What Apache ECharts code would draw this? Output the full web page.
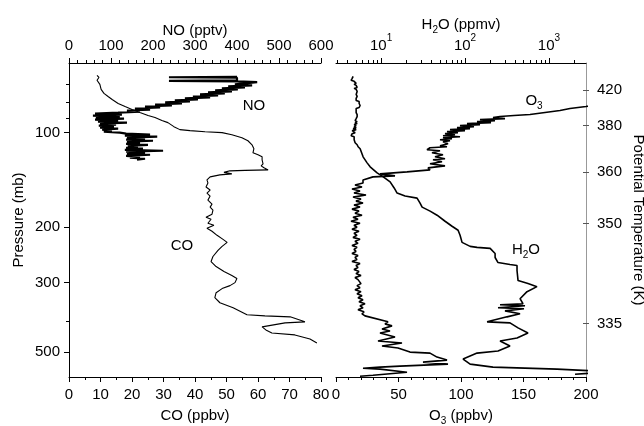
<!DOCTYPE html>
<html>
<head>
<meta charset="utf-8">
<script src="https://cdn.jsdelivr.net/npm/echarts@6/dist/echarts.min.js"></script>
<style>
  html, body { margin: 0; padding: 0; background: #fff; }
  #chart { width: 644px; height: 426px; }
</style>
</head>
<body>
<div id="chart"></div>
<script>
// ---- Profile data: pressure (mb) and the measured value at that level ----

// CO (ppbv)
const coPressure = [65.7, 66.7, 68.1, 70.2, 72.8, 75.0, 76.7, 78.4, 80.7, 82.6, 84.4, 86.3, 88.2, 89.5, 91.5, 92.9, 95.7, 97.8, 98.5, 99.3, 100, 101.5, 103.8, 106.1, 109.3, 112.5, 115.9, 117.6, 119.4, 122.0, 125.7, 127.6, 129.4, 131.4, 131.9, 132.3, 133.8, 135.3, 136.3, 138.3, 141.4, 144.6, 148.9, 152.3, 155.7, 159.2, 164.0, 168.9, 172.6, 176.5, 181.8, 185.9, 188.7, 194.3, 197.2, 201.6, 206.1, 212.3, 218.7, 223.6, 230.2, 237.1, 248.0, 257.3, 267.0, 276.9, 285.2, 291.5, 300.3, 307.0, 313.8, 323.3, 335.4, 348.1, 361.2, 380.2, 383.2, 386.0, 400.4, 403.4, 415.5, 424.8, 434.3, 440.7, 454.0, 467.7];
const coValue = [8.9, 9.5, 8.9, 9.8, 10.2, 11.1, 12.4, 13.7, 15.6, 17.8, 20.0, 22.5, 25.1, 27.3, 29.5, 31.4, 33.3, 35.2, 38.4, 43.2, 48.6, 51.7, 54.9, 56.8, 58.1, 58.7, 58.4, 60.0, 61.3, 61.3, 61.6, 61.0, 61.9, 63.2, 55.9, 51.1, 49.2, 51.7, 47.9, 44.8, 43.8, 44.1, 43.5, 44.8, 43.8, 44.8, 44.1, 45.4, 44.8, 45.7, 45.4, 43.5, 45.1, 44.1, 46.0, 43.8, 45.4, 47.0, 48.9, 50.2, 48.6, 47.3, 45.7, 45.1, 46.7, 49.2, 51.7, 53.3, 52.7, 51.1, 48.6, 46.7, 46.3, 47.9, 52.1, 56.5, 62.2, 70.2, 74.9, 68.6, 61.3, 62.5, 64.4, 71.7, 76.5, 78.7];

// NO (pptv)
const noPressure = [66.4, 66.6, 66.8, 68.2, 68.4, 68.7, 69.0, 69.66, 70.2, 70.7, 71.2, 71.75, 72.3, 72.8, 73.35, 73.9, 74.4, 75.0, 75.55, 76.1, 76.7, 77.2, 77.8, 78.4, 78.97, 79.55, 80.14, 80.74, 81.34, 81.94, 82.55, 83.16, 83.77, 84.4, 85.0, 85.65, 86.3, 86.9, 87.6, 88.2, 88.9, 89.5, 90.2, 90.9, 91.5, 92.2, 92.9, 93.6, 94.3, 95.0, 95.7, 96.4, 97.1, 97.8, 98.5, 99.3, 100, 100.7, 101.5, 102.2, 103.0, 103.8, 104.5, 105.3, 106.1, 106.9, 107.7, 108.5, 109.3, 110.1, 110.9, 111.7, 112.5, 113.4, 114.2, 115.0, 115.9, 116.8, 117.6, 118.5, 119.4, 120.2, 121.1, 122.0];
const noValue = [400, 238, 400, 400, 238, 400, 448, 445, 395, 436, 379, 419, 364, 402, 348, 388, 331, 371, 312, 355, 295, 336, 276, 307, 252, 288, 229, 269, 205, 245, 181, 217, 157, 193, 138, 169, 117, 62, 126, 57, 121, 64, 131, 62, 117, 69, 138, 74, 112, 71, 107, 74, 117, 79, 102, 83, 121, 136, 193, 133, 210, 138, 181, 136, 200, 138, 169, 136, 188, 140, 164, 136, 176, 133, 224, 136, 181, 138, 193, 136, 169, 145, 181, 162];

// O3 (ppbv)
const o3Pressure = [80.74, 82.55, 83.77, 85.02, 86.28, 87.57, 88.22, 88.87, 89.53, 90.19, 90.86, 91.53, 92.21, 92.89, 93.58, 94.27, 94.97, 95.67, 96.38, 97.09, 97.81, 98.53, 99.26, 100, 100.74, 101.49, 102.24, 103.0, 103.76, 104.53, 105.3, 106.08, 106.86, 108.45, 110.06, 110.88, 111.70, 113.36, 114.19, 115.89, 117.61, 119.36, 121.13, 122.03, 123.85, 125.68, 127.55, 129.44, 131.36, 133.30, 135.28, 137.29, 138.30, 141.39, 144.55, 146.7, 148.9, 151.1, 153.4, 155.7, 158.0, 160.4, 162.8, 165.2, 167.6, 170.1, 172.6, 175.2, 177.8, 180.5, 183.2, 185.9, 188.7, 191.5, 194.3, 197.2, 200.1, 203.1, 206.1, 209.2, 212.3, 215.5, 218.7, 221.9, 225.2, 228.6, 231.9, 235.4, 238.9, 242.5, 246.1, 249.8, 253.5, 257.3, 261.0, 264.9, 268.9, 272.9, 276.9, 281.0, 285.2, 289.5, 293.8, 298.1, 302.5, 307.0, 311.6, 316.2, 320.9, 325.7, 330.5, 335.4, 340.4, 345.5, 350.7, 355.9, 361.2, 366.6, 372.0, 377.5, 383.2, 388.8, 400.4, 406.4, 412.4, 421.7, 428.0, 434.3, 447.4, 460.8, 467.7, 478.1, 485.2, 499.8, 503.5, 518.5, 530.1, 537.9, 546.0, 554.1, 558.2, 562.4, 566.5, 579.2, 592.2, 596.5];
const o3Value = [211.2, 200, 187.2, 179.2, 167.2, 155.2, 142.4, 131.2, 125.6, 135.2, 115.2, 127.2, 112.8, 124.0, 104.8, 115.2, 99.2, 110.4, 96.8, 107.2, 91.2, 103.2, 88.8, 97.6, 87.2, 95.2, 85.6, 99.2, 85.6, 92.8, 83.2, 91.2, 85.6, 89.6, 83.2, 88.8, 75.2, 72.8, 83.2, 76.8, 85.6, 79.2, 87.2, 77.6, 84.8, 75.2, 87.2, 73.6, 75.2, 56.8, 35.2, 47.2, 29.6, 21.6, 21.6, 15.2, 20.8, 12.8, 19.2, 14.4, 24.0, 13.6, 20.0, 16.0, 21.6, 14.4, 19.2, 12.8, 18.4, 15.2, 20.8, 13.6, 17.6, 12.0, 19.2, 14.4, 16.8, 12.8, 18.4, 14.4, 16.8, 13.6, 19.2, 15.2, 17.6, 12.8, 16.8, 14.4, 16.0, 12.8, 17.6, 15.2, 16.8, 12.8, 19.2, 16.0, 17.6, 14.4, 18.4, 16.0, 20.0, 15.2, 17.6, 16.0, 20.0, 16.8, 19.2, 15.2, 20.0, 16.8, 20.8, 17.6, 21.6, 18.4, 23.2, 19.2, 21.6, 17.6, 22.4, 20.8, 23.2, 24.8, 41.6, 39.2, 44.8, 36.8, 43.2, 35.2, 47.2, 33.6, 52.8, 36.8, 49.6, 59.2, 75.2, 80.8, 88.8, 69.6, 89.6, 51.2, 35.2, 21.6, 35.2, 56.8, 29.6, 19.2];

// H2O (ppmv)
const h2oPressure = [66.16, 66.65, 67.14, 67.64, 68.14, 68.64, 69.15, 69.66, 70.18, 70.70, 71.22, 71.75, 72.28, 72.82, 73.35, 73.90, 74.44, 74.99, 75.55, 76.11, 76.67, 77.24, 77.81, 78.39, 78.97, 79.55, 80.14, 80.74, 81.34, 81.94, 82.55, 83.16, 83.77, 84.39, 85.02, 85.65, 86.28, 86.92, 87.57, 88.22, 88.87, 89.53, 90.19, 90.86, 91.53, 92.21, 92.89, 93.58, 94.27, 94.97, 95.67, 96.38, 97.09, 97.81, 98.53, 100, 100.74, 101.49, 102.24, 103.0, 103.76, 105.3, 106.08, 107.66, 108.45, 109.25, 110.88, 112.52, 119.4, 124.8, 128.5, 134.3, 138.3, 143.5, 150.0, 155.7, 159.2, 161.6, 167.6, 172.6, 177.8, 183.2, 191.5, 198.6, 204.6, 212.3, 223.6, 230.2, 231.9, 233.7, 242.5, 249.8, 259.2, 262.9, 264.9, 274.8, 295.9, 302.5, 309.3, 320.9, 337.9, 350.7, 353.3, 355.9, 361.2, 363.9, 369.4, 377.5, 386.0, 400.4, 403.4, 418.6, 434.3, 450.7, 460.8, 478.1, 496.1, 503.5, 526.2, 546.0, 558.2, 566.5, 574.9, 583.5, 587.8];
const h2oValue = [4.64, 4.90, 4.52, 4.77, 4.39, 4.77, 4.64, 5.04, 4.77, 5.04, 4.90, 5.18, 4.77, 5.04, 4.90, 5.18, 5.04, 5.32, 5.04, 5.32, 5.18, 5.47, 5.04, 5.18, 5.04, 5.47, 5.18, 5.47, 5.18, 5.62, 5.32, 5.47, 5.04, 5.32, 5.04, 5.32, 5.04, 5.32, 5.18, 5.47, 5.18, 5.32, 5.04, 5.32, 4.90, 5.18, 4.90, 5.18, 4.77, 5.04, 4.77, 5.04, 4.64, 5.04, 4.52, 4.90, 4.52, 4.77, 4.39, 4.77, 4.52, 4.77, 4.52, 4.90, 4.77, 5.18, 5.32, 5.62, 6.10, 6.81, 7.40, 8.96, 10.6, 12.8, 14.3, 15.5, 19.3, 26.8, 29.1, 30.8, 38.3, 46.4, 57.8, 70.0, 82.6, 87.2, 92.1, 115, 139, 199, 228, 228, 247, 343, 416, 416, 428, 562, 719, 547, 452, 490, 261, 518, 247, 504, 299, 452, 316, 183, 343, 428, 562, 416, 261, 343, 247, 139, 94.7, 115, 215, 1245, 4048, 3073, 2042];

// ---- Axis tick values ----
const pressureLabels = [100, 200, 300, 500];
const pressureMinorTicks = [70, 80, 90, 400];
const thetaLabels = [420, 380, 360, 350, 335];
const thetaPressure = [73.2, 94.8, 133.6, 194.7, 405.7];
const h2oDecades = [1, 2, 3];
const h2oMinorTicks = [3, 4, 5, 6, 7, 8, 9, 20, 30, 40, 50, 60, 70, 80, 90, 200, 300, 400, 500, 600, 700, 800, 900, 2000];

// ---- Chart ----
const FONT = '"Liberation Sans", Arial, Helvetica, sans-serif';
const lg = Math.log10;
const P_MIN = lg(60), P_MAX = lg(600);
const H2O_MIN = lg(2.9), H2O_MAX = lg(2760);

function profile(values, pressures, toX) {
  const n = Math.min(values.length, pressures.length);
  const out = [];
  for (let i = 0; i < n; i++) out.push([toX(values[i]), lg(pressures[i])]);
  return out;
}
const same = v => v;

const txt = { color: '#000', fontSize: 15, fontFamily: FONT };
const subRich = {
  sub: { fontSize: 10, fontFamily: FONT, color: '#000', verticalAlign: 'bottom', lineHeight: 10 }
};

function xAxisBase(grid, pos) {
  return {
    type: 'value', gridIndex: grid, position: pos,
    axisLine: { onZero: false, lineStyle: { color: '#000', width: 1 } },
    axisTick: { length: 5, lineStyle: { color: '#000' } },
    axisLabel: Object.assign({ margin: 10 }, txt),
    splitLine: { show: false },
    nameLocation: 'middle',
    nameMoveOverlap: false,
    nameTextStyle: Object.assign({ lineHeight: 20, rich: subRich }, txt)
  };
}

const chart = echarts.init(document.getElementById('chart'), null, { renderer: 'canvas' });

chart.setOption({
  animation: false,
  textStyle: { fontFamily: FONT, color: '#000' },
  grid: [
    { left: 69, right: 323, top: 63, bottom: 49, containLabel: false, outerBoundsMode: 'none' },
    { left: 336, right: 58, top: 63, bottom: 49, containLabel: false, outerBoundsMode: 'none' }
  ],
  xAxis: [
    Object.assign(xAxisBase(0, 'bottom'), {
      min: 0, max: 80, interval: 10,
      minorTick: { show: true, splitNumber: 2, length: 3, lineStyle: { color: '#000' } },
      name: 'CO (ppbv)', nameGap: 29
    }),
    Object.assign(xAxisBase(0, 'top'), {
      min: 0, max: 600, interval: 100,
      minorTick: { show: true, splitNumber: 5, length: 3, lineStyle: { color: '#000' } },
      name: 'NO (pptv)', nameGap: 22
    }),
    Object.assign(xAxisBase(1, 'bottom'), {
      min: 0, max: 200, interval: 50,
      minorTick: { show: true, splitNumber: 5, length: 3, lineStyle: { color: '#000' } },
      name: 'O{sub|3} (ppbv)', nameGap: 29
    }),
    Object.assign(xAxisBase(1, 'top'), {
      min: H2O_MIN, max: H2O_MAX,
      axisTick: { length: 5, customValues: h2oDecades, lineStyle: { color: '#000' } },
      axisLabel: Object.assign({
        margin: 10,
        customValues: h2oDecades,
        formatter: v => '{b|10}{s|' + Math.round(v) + '}',
        rich: {
          b: { fontSize: 15, fontFamily: FONT, color: '#000', lineHeight: 20, verticalAlign: 'bottom' },
          s: { fontSize: 10, fontFamily: FONT, color: '#000', lineHeight: 10, verticalAlign: 'top' }
        }
      }, txt),
      name: 'H{sub|2}O (ppmv)', nameGap: 28
    }),
    {
      type: 'value', gridIndex: 1, position: 'top', min: H2O_MIN, max: H2O_MAX,
      axisLine: { show: false, onZero: false },
      axisLabel: { show: false },
      axisTick: { length: 3, customValues: h2oMinorTicks.map(lg), lineStyle: { color: '#000' } },
      splitLine: { show: false }
    }
  ],
  yAxis: [
    {
      type: 'value', gridIndex: 0, position: 'left', inverse: true, min: P_MIN, max: P_MAX,
      axisLine: { onZero: false, lineStyle: { color: '#000', width: 1 } },
      axisTick: { length: 5, customValues: pressureLabels.map(lg), lineStyle: { color: '#000' } },
      axisLabel: Object.assign({
        margin: 9,
        customValues: pressureLabels.map(lg),
        formatter: v => String(Math.round(Math.pow(10, v)))
      }, txt),
      splitLine: { show: false },
      name: 'Pressure (mb)', nameLocation: 'middle', nameGap: 43, nameMoveOverlap: false,
      nameTextStyle: txt
    },
    {
      type: 'value', gridIndex: 0, position: 'left', inverse: true, min: P_MIN, max: P_MAX,
      axisLine: { show: false, onZero: false },
      axisLabel: { show: false },
      axisTick: { length: 3, customValues: pressureMinorTicks.map(lg), lineStyle: { color: '#000' } },
      splitLine: { show: false }
    },
    {
      type: 'value', gridIndex: 1, position: 'right', inverse: true, min: P_MIN, max: P_MAX,
      axisLine: { onZero: false, lineStyle: { color: '#999', width: 1 } },
      axisTick: { length: 3, customValues: thetaPressure.map(lg), lineStyle: { color: '#555' } },
      axisLabel: Object.assign({
        margin: 11,
        customValues: thetaPressure.map(lg),
        formatter: v => {
          const i = thetaPressure.findIndex(p => Math.abs(lg(p) - v) < 1e-6);
          return i >= 0 ? String(thetaLabels[i]) : '';
        }
      }, txt),
      splitLine: { show: false },
      name: 'Potential Temperature (K)', nameLocation: 'middle', nameRotate: -90, nameGap: 45,
      nameMoveOverlap: false,
      nameTextStyle: txt
    },
    {
      type: 'value', gridIndex: 1, position: 'right', inverse: true, min: P_MIN, max: P_MAX,
      axisLine: { show: false, onZero: false },
      axisLabel: { show: false },
      axisTick: { inside: true, length: 3, customValues: thetaPressure.map(lg), lineStyle: { color: '#555' } },
      splitLine: { show: false }
    }
  ],
  series: [
    {
      name: 'CO', type: 'line', xAxisIndex: 0, yAxisIndex: 0,
      data: profile(coValue, coPressure, same),
      symbol: 'none', silent: true, lineStyle: { color: '#000', width: 1.1 }
    },
    {
      name: 'NO', type: 'line', xAxisIndex: 1, yAxisIndex: 0,
      data: profile(noValue, noPressure, same),
      symbol: 'none', silent: true, lineStyle: { color: '#000', width: 2.2 }
    },
    {
      name: 'O3', type: 'line', xAxisIndex: 2, yAxisIndex: 2,
      data: profile(o3Value, o3Pressure, same),
      symbol: 'none', silent: true, lineStyle: { color: '#000', width: 1.6 }
    },
    {
      name: 'H2O', type: 'line', xAxisIndex: 3, yAxisIndex: 2,
      data: profile(h2oValue, h2oPressure, lg),
      symbol: 'none', silent: true, lineStyle: { color: '#000', width: 1.6 }
    }
  ],
  graphic: [
    { type: 'text', x: 254, y: 106, style: { text: 'NO', font: '15px ' + FONT, fill: '#000', align: 'center', verticalAlign: 'middle' } },
    { type: 'text', x: 182, y: 246, style: { text: 'CO', font: '15px ' + FONT, fill: '#000', align: 'center', verticalAlign: 'middle' } },
    { type: 'text', x: 534, y: 101, style: { text: 'O{sub|3}', font: '15px ' + FONT, fill: '#000', align: 'center', verticalAlign: 'middle', lineHeight: 20, rich: subRich } },
    { type: 'text', x: 526, y: 250, style: { text: 'H{sub|2}O', font: '15px ' + FONT, fill: '#000', align: 'center', verticalAlign: 'middle', lineHeight: 20, rich: subRich } }
  ]
});
</script>
</body>
</html>
